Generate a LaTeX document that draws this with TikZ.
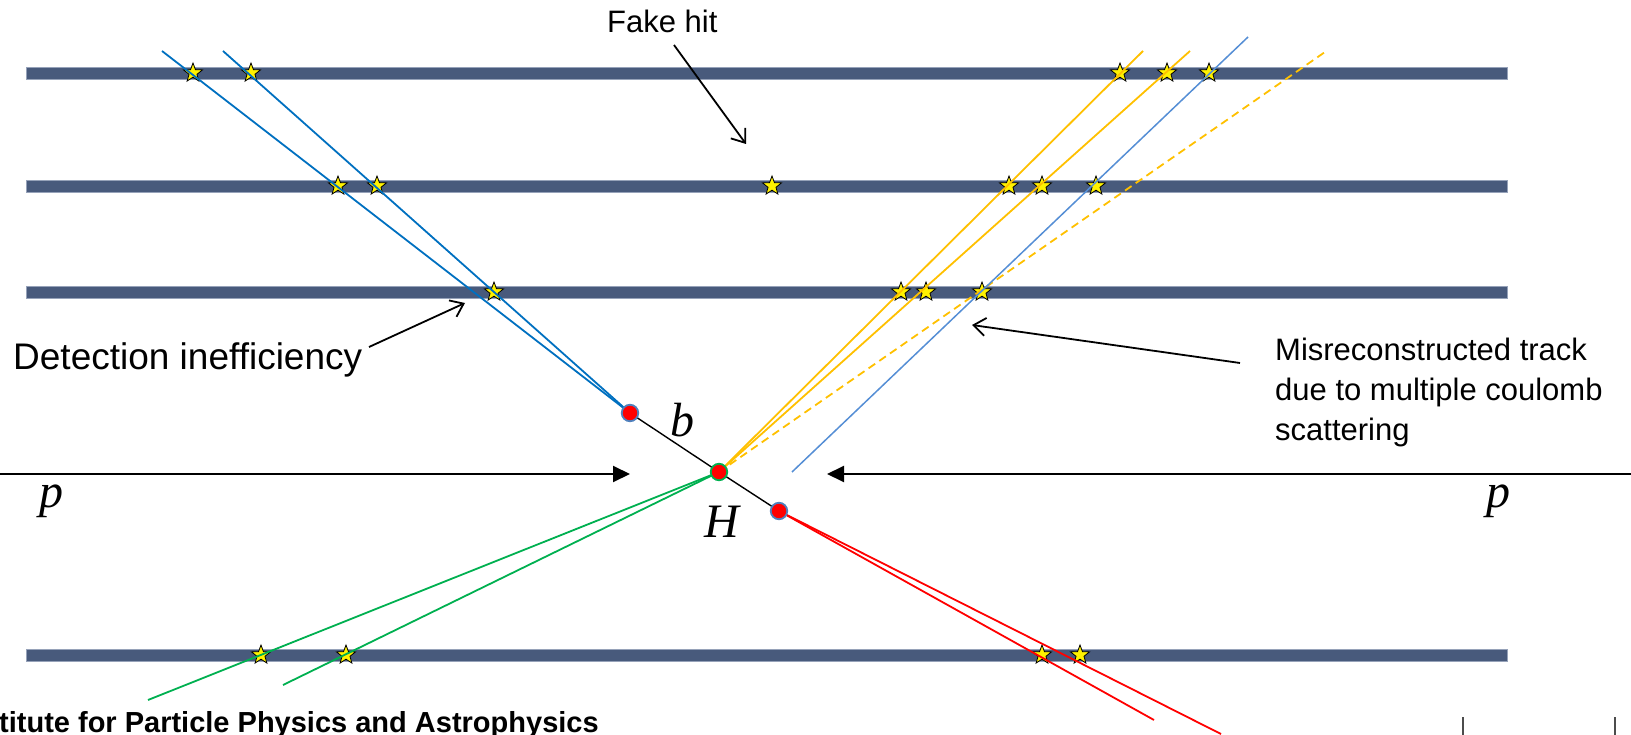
\documentclass[tikz,border=0pt]{standalone}
\usepackage{fontspec}
\setmainfont{Liberation Sans}
\newfontfamily\mathletters{Liberation Serif}
\usetikzlibrary{arrows.meta,shapes.geometric}
\definecolor{barcol}{RGB}{72,90,124}
\definecolor{baredge}{RGB}{150,162,185}
\definecolor{trkblue}{RGB}{0,112,192}
\definecolor{lightblue}{RGB}{85,142,213}
\definecolor{gold}{RGB}{255,192,0}
\definecolor{trkgreen}{RGB}{0,176,80}
\definecolor{dotblue}{RGB}{79,129,189}
\tikzset{
  detbar/.style={fill=barcol, draw=baredge, line width=0.8pt},
  track/.style={line width=1.8pt},
  hitstar/.style={star, star points=5, star point ratio=2.4, minimum size=20pt, inner sep=0pt, fill=yellow, draw=black, line width=0.8pt},
  vtx/.style={circle, minimum size=16.5pt, inner sep=0pt, fill=red, draw=dotblue, line width=1.8pt},
  lbl/.style={font=\fontsize{31}{40}\selectfont, inner sep=0pt},
  mlbl/.style={font=\fontsize{48}{48}\selectfont\mathletters\itshape, inner sep=0pt},
  pointer/.style={-{Straight Barb[length=12pt,width=18pt,line width=1.8pt]}, line width=1.8pt},
  beam/.style={-{Triangle[length=17pt,width=16pt]}, line width=2pt}
}
\begin{document}
\begin{tikzpicture}[x=1pt,y=-1pt]
\useasboundingbox (0,0) rectangle (1631,735);
\clip (0,0) rectangle (1631,735);
% detector layers
\foreach \yy in {73,186,292,655}
  \draw[detbar] (26,\yy-6) rectangle (1507,\yy+6);
% hits
\foreach \xx [count=\i] in {193,251,1120,1167,1209}
  \node[hitstar] (sa\i) at (\xx,73) {};
\foreach \xx [count=\i] in {338,377,772,1009,1042,1096}
  \node[hitstar] (sb\i) at (\xx,186) {};
\foreach \xx [count=\i] in {494,901,926,982}
  \node[hitstar] (sc\i) at (\xx,292) {};
\foreach \xx [count=\i] in {261,346,1042,1080}
  \node[hitstar] (sd\i) at (\xx,655) {};
% vertices
\coordinate (bpos) at (630,413);
\coordinate (hpos) at (719,472);
\coordinate (cpos) at (779,511);
% track ends
\coordinate (bA) at (223,51);
\coordinate (bB) at (162,51);
\coordinate (y1) at (1143,51);
\coordinate (y2) at (1190,51);
\coordinate (yd) at (1325,52);
\coordinate (lbS) at (792,472);
\coordinate (lbE) at (1248,37);
\coordinate (g1) at (148,700);
\coordinate (g2) at (283,685);
\coordinate (r1) at (1154,720);
\coordinate (r2) at (1221,734);
% tracks
\draw[track, trkblue] (bpos) -- (bA);
\draw[track, trkblue] (bpos) -- (bB);
\draw[track, gold] (hpos) -- (y1);
\draw[track, gold] (hpos) -- (y2);
\draw[track, gold, dash pattern=on 8pt off 5pt] (hpos) -- (yd);
\draw[track, lightblue, line width=1.5pt] (lbS) -- (lbE);
\draw[track, trkgreen] (hpos) -- (g1);
\draw[track, trkgreen] (hpos) -- (g2);
\draw[track, red] (cpos) -- (r1);
\draw[track, red] (cpos) -- (r2);
\draw[black, line width=1.4pt] (bpos) -- (hpos) -- (cpos);
\node[vtx] (bdot) at (bpos) {};
\node[vtx, draw=trkgreen] (hdot) at (hpos) {};
\node[vtx] (cdot) at (cpos) {};
% beams
\coordinate (lbeam) at (-2,474);
\coordinate (rbeam) at (1633,474);
\coordinate (ltip) at (630,474);
\coordinate (rtip) at (827,474);
\draw[beam] (lbeam) -- (ltip);
\draw[beam] (rbeam) -- (rtip);
% math labels
\node[mlbl] (blab) at (682,420) {b};
\node[mlbl] (hlab) at (722,522) {H};
\node[mlbl] (plab) at (51,501) {p};
\node[mlbl] (prab) at (1498,501) {p};
% text labels
\node[lbl, anchor=base west] (fake) at (607,33) {Fake hit};
\node[lbl, font=\fontsize{37}{44}\selectfont, anchor=base west] (ineff) at (13,370) {Detection inefficiency};
\node[lbl, anchor=base west] (mis1) at (1275,360) {Misreconstructed track};
\node[lbl, anchor=base west] (mis2) at (1275,400) {due to multiple coulomb};
\node[lbl, anchor=base west] (mis3) at (1275,440) {scattering};
% pointers
\coordinate (fkA) at (674,45);
\coordinate (fkB) at (746,144);
\coordinate (inA) at (369,347);
\coordinate (inB) at (465,303);
\coordinate (msA) at (1240,363);
\coordinate (msB) at (972,325);
\draw[pointer] (fkA) -- (fkB);
\draw[pointer] (inA) -- (inB);
\draw[pointer] (msA) -- (msB);
% footer
\node[font=\fontsize{29}{29}\selectfont\bfseries, inner sep=0pt, anchor=base west] (foot) at (-1,732) {titute for Particle Physics and Astrophysics};
\coordinate (t1a) at (1463,717);
\coordinate (t1b) at (1463,737);
\coordinate (t2a) at (1615,717);
\coordinate (t2b) at (1615,737);
\draw[line width=1.5pt, black!70] (t1a) -- (t1b);
\draw[line width=1.5pt, black!70] (t2a) -- (t2b);
\end{tikzpicture}
\end{document}
